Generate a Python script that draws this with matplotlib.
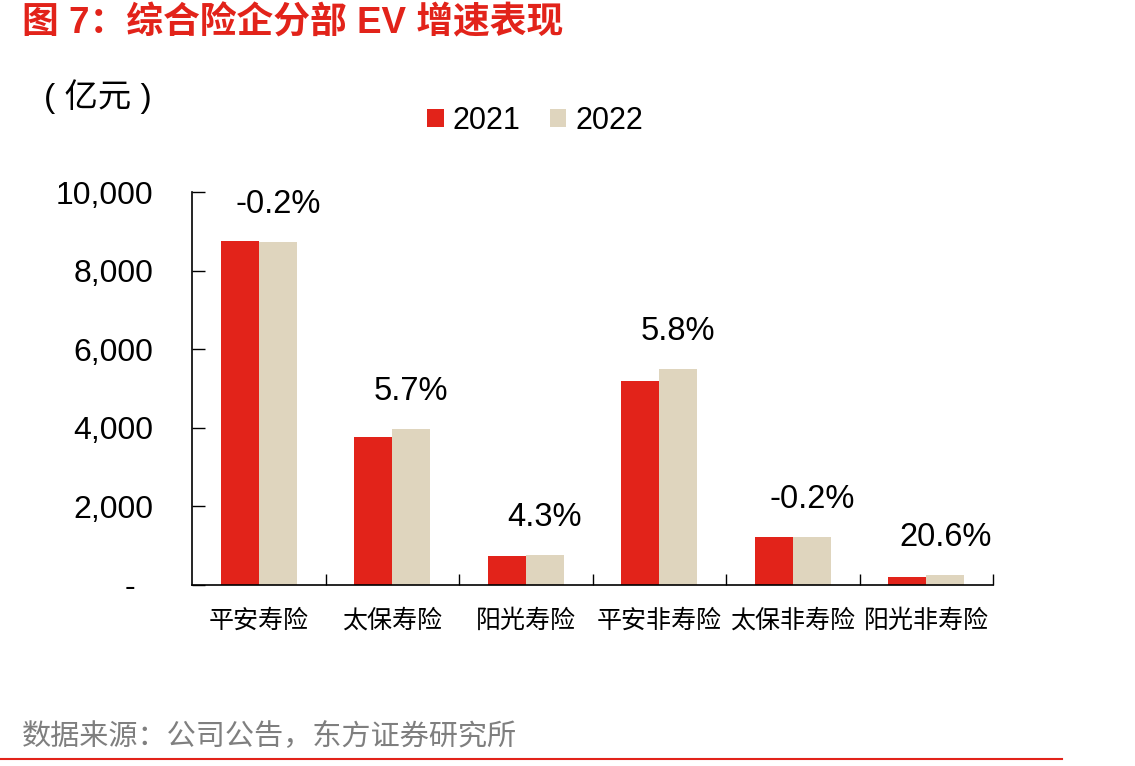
import numpy as np
import matplotlib
matplotlib.use('Agg')
from matplotlib import pyplot as plt
from matplotlib.lines import Line2D
from matplotlib.patches import Patch
from matplotlib.ticker import FuncFormatter, FixedLocator

plt.rcParams['font.family'] = ['Liberation Sans', 'Noto Sans CJK SC']
plt.rcParams['axes.unicode_minus'] = False

categories = ['平安寿险', '太保寿险', '阳光寿险', '平安非寿险', '太保非寿险', '阳光非寿险']
ev_2021 = [8753, 3758, 738, 5191, 1213, 211]
ev_2022 = [8735, 3969, 770, 5492, 1211, 254]
growth = ['-0.2%', '5.7%', '4.3%', '5.8%', '-0.2%', '20.6%']
years = ['2021', '2022']

RED = '#E2231A'
BEIGE = '#DFD5BE'

fig = plt.figure(figsize=(11.35, 7.66), dpi=100)
ax = fig.add_axes([192 / 1135, 1 - 585 / 766, (993 - 192) / 1135, (585 - 192) / 766])

x = np.arange(len(categories))
w = 0.285
ax.bar(x - w / 2, ev_2021, width=w, color=RED, linewidth=0)
ax.bar(x + w / 2, ev_2022, width=w, color=BEIGE, linewidth=0)

# growth labels sit over the 2022 bar
for xi, v, g in zip(x, ev_2022, growth):
    ax.annotate(g, (xi + w / 2, v), xytext=(0, 27), textcoords='offset points',
                ha='center', va='center', fontsize=23.5)

ax.set_xlim(-0.5, len(categories) - 0.5)
ax.set_ylim(0, 10000)
ax.set_yticks(np.arange(0, 10001, 2000))
ax.yaxis.set_major_formatter(FuncFormatter(lambda v, p: '-  ' if v == 0 else f'{int(v):,}'))
ax.tick_params(axis='y', direction='in', length=9, width=1, pad=28, labelsize=23)

ax.set_xticks(x)
ax.set_xticklabels(categories)
ax.xaxis.set_minor_locator(FixedLocator(np.arange(0.5, len(categories), 1.0)))
ax.tick_params(axis='x', which='major', length=0, pad=17, labelsize=18)
ax.tick_params(axis='x', which='minor', direction='in', length=8, width=1)

for s in ['top', 'right']:
    ax.spines[s].set_visible(False)
for s in ['left', 'bottom']:
    ax.spines[s].set_linewidth(1.2)

handles = [Patch(facecolor=RED, edgecolor='none'), Patch(facecolor=BEIGE, edgecolor='none')]
fig.legend(handles, years, loc='center', bbox_to_anchor=(535 / 1135, 1 - 121 / 766),
           ncol=2, frameon=False, fontsize=22, handlelength=0.55, handleheight=0.55,
           handletextpad=0.3, columnspacing=0.95)

fig.text(22 / 1135, 1 - 24 / 766, '图 7：综合险企分部 EV 增速表现', color=RED,
         fontsize=26.5, fontweight='bold', ha='left', va='center')
fig.text(44 / 1135, 1 - 97 / 766, '( 亿元 )', fontsize=24, ha='left', va='center')
fig.text(22 / 1135, 1 - 737 / 766, '数据来源：公司公告，东方证券研究所', color='#7F7F7F',
         fontsize=21, ha='left', va='center')
fig.add_artist(Line2D([0, 1062 / 1135], [1 - 759 / 766] * 2, color=RED, lw=1.5,
                      transform=fig.transFigure))

fig.savefig('out.png', dpi=100)
